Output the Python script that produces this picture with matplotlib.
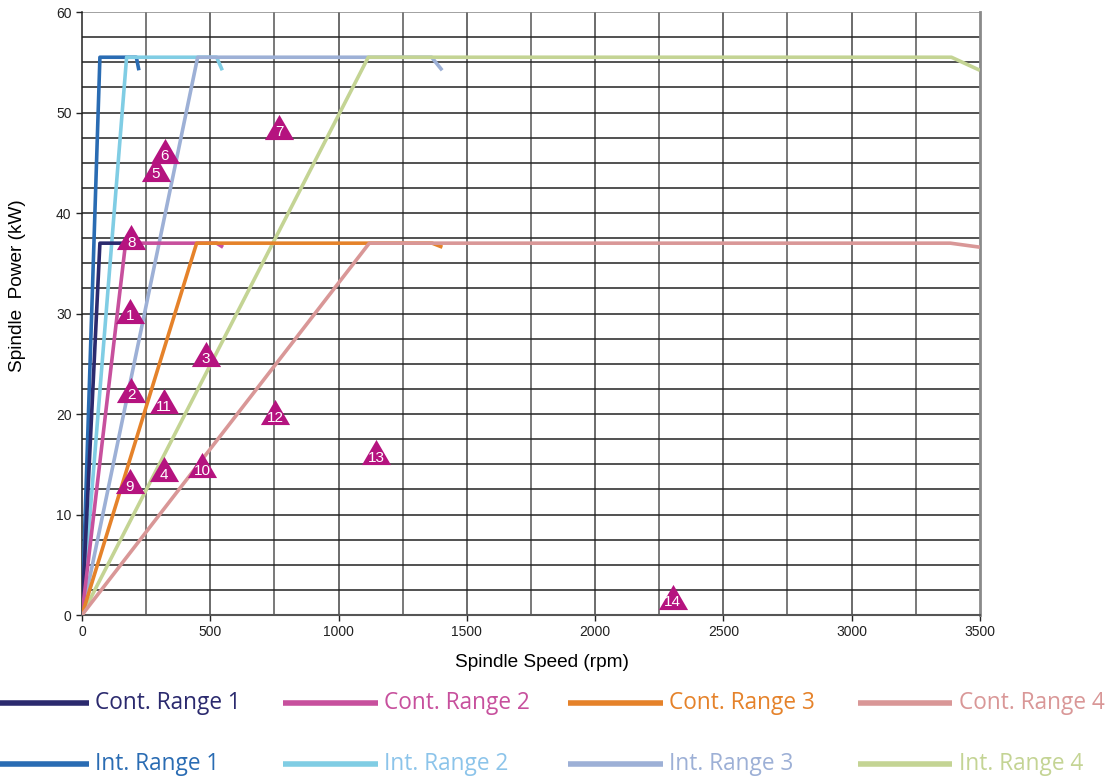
import matplotlib
matplotlib.use("Agg")
import matplotlib.pyplot as plt
from matplotlib.lines import Line2D
import numpy as np

# speed (rpm) / power (kW) breakpoints for each range
cont_speed = [
    [0, 70, 210, 220],
    [0, 170, 525, 550],
    [0, 447, 1365, 1405],
    [0, 1120, 3385, 3500],
]
cont_power = [
    [0, 37.0, 37.0, 36.6],
    [0, 37.0, 37.0, 36.6],
    [0, 37.0, 37.0, 36.6],
    [0, 37.0, 37.0, 36.6],
]
int_speed = [
    [0, 70, 212, 222],
    [0, 174, 525, 547],
    [0, 451, 1363, 1404],
    [0, 1116, 3389, 3500],
]
int_power = [
    [0, 55.5, 55.5, 54.2],
    [0, 55.5, 55.5, 54.2],
    [0, 55.5, 55.5, 54.2],
    [0, 55.5, 55.5, 54.2],
]
cont_labels = ["Cont. Range 1", "Cont. Range 2", "Cont. Range 3", "Cont. Range 4"]
int_labels = ["Int. Range 1", "Int. Range 2", "Int. Range 3", "Int. Range 4"]
cont_colors = ["#2b2a6e", "#c7509d", "#e5822a", "#d99797"]
int_colors = ["#2a6cb3", "#80cde4", "#9db0d6", "#c4d494"]
int_text_colors = ["#2a6cb3", "#8cc4ea", "#9db0d6", "#c4d494"]

# numbered operating points
pt_id = list(range(1, 15))
pt_speed = [187, 193, 482, 319, 288, 322, 768, 193, 187, 468, 319, 752, 1146, 2303]
pt_power = [30.3, 22.4, 26.0, 14.5, 44.4, 46.2, 48.6, 37.6, 13.3, 14.9, 21.3, 20.2, 16.2, 1.8]

fig = plt.figure(figsize=(11.12, 7.8), dpi=100)
ax = fig.add_axes([0.0737, 0.2115, 0.8075, 0.7731])

for i in range(4):
    ax.plot(int_speed[i], int_power[i], color=int_colors[i], lw=2.6,
            solid_capstyle="butt", zorder=3)
for i in range(4):
    ax.plot(cont_speed[i], cont_power[i], color=cont_colors[i], lw=2.6,
            solid_capstyle="butt", zorder=3)

tri = [(-1.16, -1), (1.16, -1), (0, 1), (-1.16, -1)]
ax.plot(pt_speed, pt_power, linestyle="none", marker=tri, markersize=21,
        color="#b5137f", markeredgewidth=0, zorder=5)
for n, xs, ys in zip(pt_id, pt_speed, pt_power):
    ax.annotate(str(n), (xs, ys), xytext=(0, -4), textcoords="offset points",
                ha="center", va="center", color="white", fontsize=11,
                family="Liberation Sans", zorder=6)

ax.set_xlim(0, 3500)
ax.set_ylim(0, 60)
ax.set_xticks(np.arange(0, 3501, 500))
ax.set_yticks(np.arange(0, 61, 10))
for v in np.arange(250, 3500, 250):
    ax.axvline(v, color="#555555" if v % 500 else "#444444", lw=1.1, zorder=1)
for h in np.arange(2.5, 60.1, 2.5):
    ax.axhline(h, color="#222222" if h < 60 else "#888888", lw=1.1, zorder=1)

ax.spines["top"].set_visible(False)
ax.spines["right"].set_color("#8a8a8a")
ax.spines["right"].set_linewidth(2)
ax.spines["left"].set_color("#222222")
ax.spines["bottom"].set_color("#555555")
ax.spines["left"].set_linewidth(1.1)
ax.spines["bottom"].set_linewidth(1.5)
ax.tick_params(axis="both", direction="out", length=4, width=1, color="#222222",
               labelsize=10, labelcolor="#222222")
for lab in ax.get_xticklabels() + ax.get_yticklabels():
    lab.set_family("Liberation Sans")

ax.set_xlabel("Spindle Speed (rpm)", fontsize=13.7, family="Liberation Sans",
              va="center")
ax.set_ylabel("Spindle  Power (kW)", fontsize=13.7, family="Liberation Sans",
              va="center")
ax.xaxis.set_label_coords(0.512, -0.078)
ax.yaxis.set_label_coords(-0.0713, 0.546)

# legend drawn in figure space: two rows of four
col_x = [-0.005, 0.2545, 0.511, 0.7715]
row_y = [1 - 703 / 780, 1 - 764 / 780]
rows = [(cont_labels, cont_colors, cont_colors),
        (int_labels, int_colors, int_text_colors)]
for r, (labels, lcols, tcols) in enumerate(rows):
    for c in range(4):
        x0 = col_x[c]
        fig.add_artist(Line2D([x0, x0 + 0.085], [row_y[r], row_y[r]],
                              color=lcols[c], lw=4, solid_capstyle="butt"))
        fig.text(x0 + 0.0905, row_y[r], labels[c], color=tcols[c], fontsize=16.3,
                 family="Open Sans", va="center", ha="left")

fig.savefig("out.png", dpi=100)
